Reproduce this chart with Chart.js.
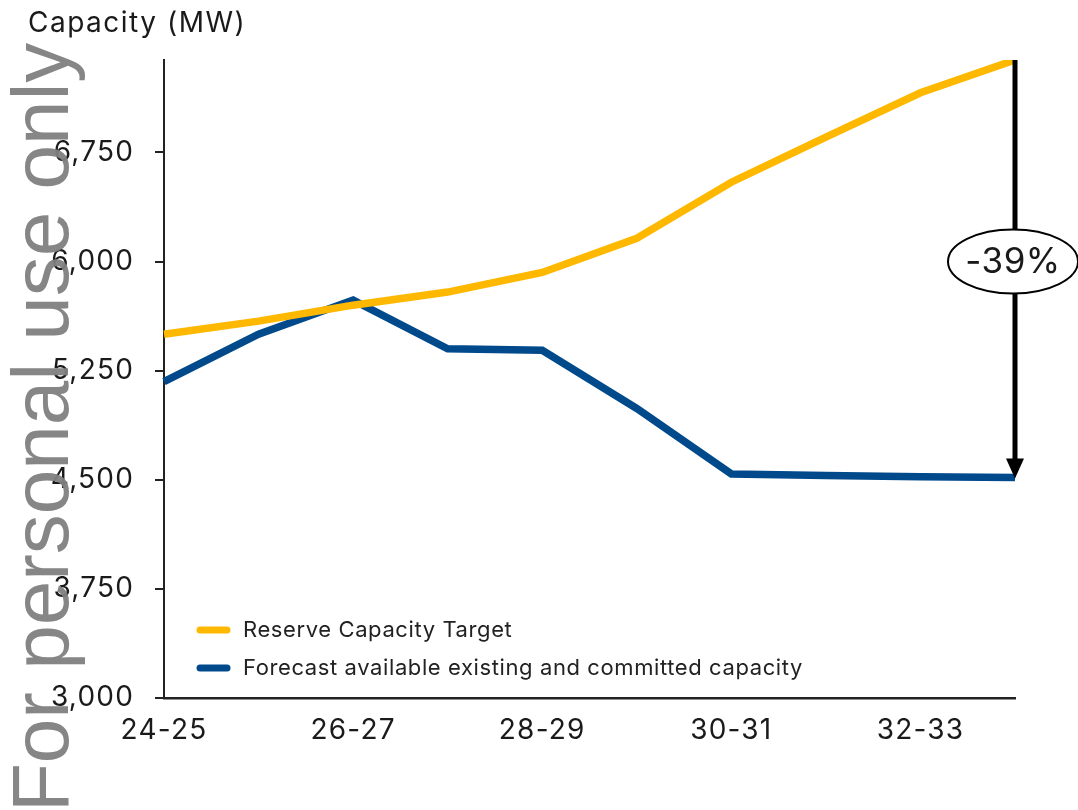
<!DOCTYPE html>
<html>
<head>
<meta charset="utf-8">
<script src="https://cdn.jsdelivr.net/npm/chart.js@4.4.0/dist/chart.umd.min.js"></script>
<style>
	html, body { margin: 0; padding: 0; background: #fff; }
	#wrap { width: 1078px; height: 810px; position: relative; }
</style>
</head>
<body>
<div id="wrap"><canvas id="chart" width="1078" height="810"></canvas></div>
<script>
// data
const years = ["24-25", "25-26", "26-27", "27-28", "28-29", "29-30", "30-31", "31-32", "32-33", "33-34"];
const reserveTarget = [5500, 5590, 5700, 5790, 5925, 6160, 6545, 6855, 7160, 7385];
const forecastCapacity = [5175, 5500, 5735, 5400, 5390, 4990, 4540, 4530, 4520, 4515];
const yTicks = [3000, 3750, 4500, 5250, 6000, 6750];
const yMin = 3000;
const yMax = 7385;
const axisTitle = "Capacity (MW)";
const changeLabel = "-39%";
const watermark = "For personal use only";

const FONT = "Inter, 'DejaVu Sans', sans-serif";
const INK = "#1a1a1a";

// the reference font is a bit wider than Inter
const spacing = {
	id: "spacing",
	beforeDraw(chart) {
		chart.ctx.letterSpacing = "1.2px";
	},
};

// legend, title, arrow and watermark drawn by hand
const extras = {
	id: "extras",
	afterDraw(chart) {
		const ctx = chart.ctx;
		const xs = chart.scales.x;
		const ys = chart.scales.y;
		ctx.save();

		// axis title
		ctx.letterSpacing = "1.5px";
		ctx.fillStyle = INK;
		ctx.font = "28px " + FONT;
		ctx.textAlign = "left";
		ctx.textBaseline = "middle";
		ctx.fillText(axisTitle, 28, 24);

		// legend inside the plot
		ctx.letterSpacing = "0.6px";
		ctx.font = "22px " + FONT;
		chart.data.datasets.forEach((ds, i) => {
			const y = 630 + i * 38;
			ctx.strokeStyle = ds.borderColor;
			ctx.lineWidth = 7;
			ctx.lineCap = "round";
			ctx.beginPath();
			ctx.moveTo(200, y);
			ctx.lineTo(227, y);
			ctx.stroke();
			ctx.fillStyle = "#222";
			ctx.fillText(ds.label, 243, y);
		});

		// arrow from target to forecast in the last year
		const last = years.length - 1;
		const ax = xs.getPixelForValue(last);
		const y1 = ys.getPixelForValue(reserveTarget[last]);
		const y2 = ys.getPixelForValue(forecastCapacity[last]);
		ctx.strokeStyle = "#000";
		ctx.lineCap = "butt";
		ctx.lineWidth = 5;
		ctx.beginPath();
		ctx.moveTo(ax, y1);
		ctx.lineTo(ax, y2 - 16);
		ctx.stroke();
		ctx.fillStyle = "#000";
		ctx.beginPath();
		ctx.moveTo(ax - 9, y2 - 19);
		ctx.lineTo(ax + 9, y2 - 19);
		ctx.lineTo(ax, y2 + 1);
		ctx.closePath();
		ctx.fill();

		// ellipse label
		const cy = ys.getPixelForValue(6000);
		ctx.beginPath();
		ctx.ellipse(ax - 2, cy, 65, 32, 0, 0, Math.PI * 2);
		ctx.fillStyle = "#fff";
		ctx.fill();
		ctx.lineWidth = 2;
		ctx.strokeStyle = "#000";
		ctx.stroke();
		ctx.letterSpacing = "0.5px";
		ctx.fillStyle = INK;
		ctx.font = "35px " + FONT;
		ctx.textAlign = "center";
		ctx.fillText(changeLabel, ax - 2, cy + 1);

		// watermark
		ctx.letterSpacing = "0px";
		ctx.translate(68, 812);
		ctx.rotate(-Math.PI / 2);
		ctx.font = "80px 'Liberation Sans', Arial, sans-serif";
		ctx.fillStyle = "rgba(128,128,128,0.95)";
		ctx.textAlign = "left";
		ctx.textBaseline = "alphabetic";
		ctx.fillText(watermark, 0, 0);

		ctx.restore();
	},
};

new Chart(document.getElementById("chart"), {
	type: "line",
	data: {
		labels: years,
		datasets: [
			{
				label: "Reserve Capacity Target",
				data: reserveTarget,
				borderColor: "#FFB800",
				borderWidth: 7.5,
				pointRadius: 0,
				tension: 0,
				fill: false,
			},
			{
				label: "Forecast available existing and committed capacity",
				data: forecastCapacity,
				borderColor: "#004A8C",
				borderWidth: 7.5,
				pointRadius: 0,
				tension: 0,
				fill: false,
			},
		],
	},
	options: {
		responsive: false,
		animation: false,
		layout: { padding: { left: 0, right: 63, top: 60, bottom: 0 } },
		plugins: {
			legend: { display: false },
			title: { display: false },
			tooltip: { enabled: false },
		},
		scales: {
			x: {
				offset: false,
				grid: { display: false, drawTicks: false },
				border: { display: true, color: "#222", width: 2.5 },
				ticks: {
					autoSkip: false,
					maxRotation: 0,
					padding: 16,
					color: INK,
					font: { family: FONT, size: 28 },
					callback: function (v, i) {
						return i % 2 === 0 ? this.getLabelForValue(v) : "";
					},
				},
				afterFit: (s) => { s.height = 112; },
			},
			y: {
				min: yMin,
				max: yMax,
				grid: {
					drawOnChartArea: false,
					drawTicks: true,
					tickLength: 9,
					color: "#222",
					lineWidth: 2,
				},
				border: { display: true, color: "#222", width: 2 },
				ticks: {
					stepSize: 750,
					includeBounds: false,
					padding: 21,
					color: INK,
					font: { family: FONT, size: 28 },
				},
				afterBuildTicks: (s) => {
					s.ticks = yTicks.map((v) => ({ value: v }));
				},
				afterFit: (s) => { s.width = 164; },
			},
		},
	},
	plugins: [spacing, extras],
});
</script>
</body>
</html>
